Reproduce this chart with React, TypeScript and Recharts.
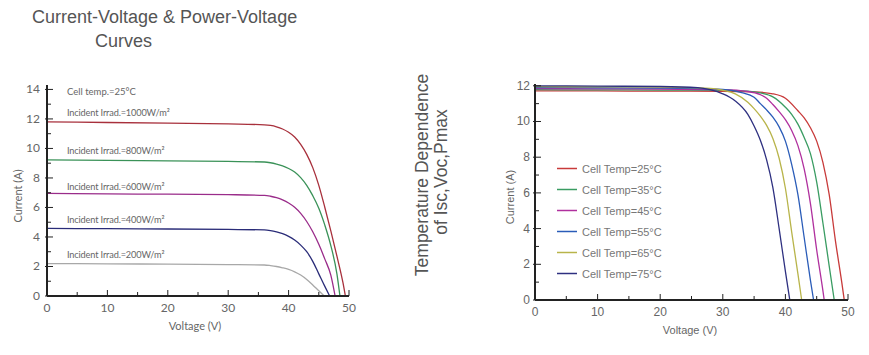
import React from "react";
import { LineChart, Line, XAxis, YAxis, Legend } from "recharts";

// Left chart: I-V curves at cell temp 25°C for several irradiance levels
const IRR_LABELS = ["1000", "800", "600", "400", "200"];
const IRR_COLORS = ["#a8303c", "#3a9258", "#9a2c8a", "#2a2c78", "#a8a8a8"];

const IRR_1000_V = [0, 10, 20, 30, 36, 37, 38, 39, 40, 41, 42, 43, 44, 45, 46, 47, 48, 49, 49.4];
const IRR_1000_I = [11.8, 11.76, 11.72, 11.66, 11.6, 11.56, 11.47, 11.32, 11.1, 10.78, 10.28, 9.6, 8.7, 7.5, 6.0, 4.4, 2.7, 0.9, 0];
const IRR_800_V = [0, 10, 20, 30, 36, 37, 38, 39, 40, 41, 42, 43, 44, 45, 46, 47, 48, 48.5];
const IRR_800_I = [9.22, 9.19, 9.16, 9.12, 9.08, 9.03, 8.94, 8.82, 8.64, 8.4, 8.02, 7.5, 6.8, 5.95, 4.8, 3.4, 1.5, 0];
const IRR_600_V = [0, 10, 20, 30, 36, 37, 38, 39, 40, 41, 42, 43, 44, 45, 46, 47, 47.7];
const IRR_600_I = [6.95, 6.92, 6.9, 6.87, 6.82, 6.76, 6.66, 6.51, 6.3, 6.01, 5.6, 5.05, 4.35, 3.5, 2.5, 1.4, 0];
const IRR_400_V = [0, 10, 20, 30, 36, 37, 38, 39, 40, 41, 42, 43, 44, 45, 46, 46.8];
const IRR_400_I = [4.58, 4.56, 4.54, 4.51, 4.48, 4.43, 4.34, 4.22, 4.04, 3.79, 3.45, 3.0, 2.35, 1.5, 0.65, 0];
const IRR_200_V = [0, 10, 20, 30, 36, 37, 38, 39, 40, 41, 42, 43, 44, 45, 45.9];
const IRR_200_I = [2.2, 2.18, 2.16, 2.13, 2.1, 2.06, 2.0, 1.91, 1.8, 1.64, 1.42, 1.12, 0.75, 0.35, 0];

const LEFT_X_TICKS = [0, 5, 10, 15, 20, 25, 30, 35, 40, 45, 50];
const LEFT_Y_TICKS = [0, 1, 2, 3, 4, 5, 6, 7, 8, 9, 10, 11, 12, 13, 14];

// Right chart: I-V curves at 1000W/m² for several cell temperatures
const TEMP_LABELS = ["25", "35", "45", "55", "65", "75"];
const TEMP_COLORS = ["#c83a3a", "#3a9c62", "#b0309e", "#2a5cb8", "#b8b44a", "#2e3080"];

const TEMP_25_V = [0, 10, 20, 30, 35, 38, 40, 42, 43, 44, 45, 46, 47, 48, 49, 49.4];
const TEMP_25_I = [11.72, 11.71, 11.7, 11.69, 11.66, 11.55, 11.3, 10.6, 10.2, 9.65, 8.9, 7.7, 5.9, 3.3, 1.0, 0];
const TEMP_35_V = [0, 10, 20, 30, 34, 36, 38, 40, 41, 42, 43, 44, 45, 46, 47, 47.8];
const TEMP_35_I = [11.78, 11.77, 11.76, 11.74, 11.7, 11.6, 11.38, 10.8, 10.4, 9.85, 9.1, 8.2, 6.6, 4.3, 1.9, 0];
const TEMP_45_V = [0, 10, 20, 30, 34, 36, 37, 38, 39, 40, 41, 42, 43, 44, 45, 46, 46.2];
const TEMP_45_I = [11.84, 11.83, 11.82, 11.78, 11.68, 11.5, 11.3, 10.95, 10.55, 10.1, 9.5, 8.65, 7.35, 5.4, 2.8, 0.5, 0];
const TEMP_55_V = [0, 10, 20, 30, 33, 35, 36, 37, 38, 39, 40, 41, 42, 43, 44, 44.5];
const TEMP_55_I = [11.9, 11.89, 11.87, 11.8, 11.62, 11.36, 11.0, 10.65, 10.24, 9.7, 8.9, 7.6, 5.9, 3.5, 1.1, 0];
const TEMP_65_V = [0, 10, 20, 28, 30, 32, 34, 35, 36, 37, 38, 39, 40, 41, 42, 42.6];
const TEMP_65_I = [11.95, 11.94, 11.92, 11.85, 11.75, 11.55, 11.08, 10.72, 10.3, 9.78, 9.05, 7.94, 6.26, 3.82, 1.46, 0];
const TEMP_75_V = [0, 10, 20, 26, 28, 30, 32, 34, 35, 36, 37, 38, 39, 40, 40.7];
const TEMP_75_I = [12.0, 11.98, 11.96, 11.9, 11.78, 11.55, 11.15, 10.4, 9.75, 8.95, 7.85, 6.3, 4.0, 1.6, 0];

const RIGHT_X_TICKS = [0, 5, 10, 15, 20, 25, 30, 35, 40, 45, 50];
const RIGHT_Y_TICKS = [0, 1, 2, 3, 4, 5, 6, 7, 8, 9, 10, 11, 12];

const toPoints = (vs: number[], is: number[]) => vs.map((v, k) => ({ v, i: is[k] }));

const IRR_SERIES = [
  toPoints(IRR_1000_V, IRR_1000_I),
  toPoints(IRR_800_V, IRR_800_I),
  toPoints(IRR_600_V, IRR_600_I),
  toPoints(IRR_400_V, IRR_400_I),
  toPoints(IRR_200_V, IRR_200_I),
];
const TEMP_SERIES = [
  toPoints(TEMP_25_V, TEMP_25_I),
  toPoints(TEMP_35_V, TEMP_35_I),
  toPoints(TEMP_45_V, TEMP_45_I),
  toPoints(TEMP_55_V, TEMP_55_I),
  toPoints(TEMP_65_V, TEMP_65_I),
  toPoints(TEMP_75_V, TEMP_75_I),
];

const LEFT_FONT = "Lato, 'Open Sans', sans-serif";
const RIGHT_FONT = "'Liberation Sans', Arial, sans-serif";
const AXIS_COLOR = "#222";
const TEXT_COLOR = "#666";

// inward tick marks; labels only on the major values
const makeYTick = (margin: number, every: number, font: string) => (props: any) => {
  const { x, y, payload } = props;
  const axisX = x + margin;
  const major = payload.value % every === 0;
  return (
    <g>
      <line x1={axisX - (major ? 2 : 0)} x2={axisX + (major ? 6 : 4)} y1={y} y2={y} stroke={AXIS_COLOR} strokeWidth={1} />
      {major && (
        <text x={x} y={y + 4} textAnchor="end" fontSize={12} fill={TEXT_COLOR} fontFamily={font}>
          {payload.value}
        </text>
      )}
    </g>
  );
};

const makeXTick = (margin: number, every: number, font: string) => (props: any) => {
  const { x, y, payload } = props;
  const axisY = y - margin;
  const major = payload.value % every === 0;
  return (
    <g>
      <line x1={x} x2={x} y1={axisY} y2={axisY - (major ? 6 : 4)} stroke={AXIS_COLOR} strokeWidth={1} />
      {major && (
        <text x={x} y={axisY + 16} textAnchor="middle" fontSize={12} fill={TEXT_COLOR} fontFamily={font}>
          {payload.value}
        </text>
      )}
    </g>
  );
};

const TempLegend = (props: any) => {
  const items = props.payload || [];
  return (
    <div style={{ fontFamily: RIGHT_FONT, fontSize: 11, color: "#777" }}>
      {items.map((it: any) => (
        <div key={it.value} style={{ height: 21, display: "flex", alignItems: "center", whiteSpace: "nowrap" }}>
          <svg width={25} height={21}>
            <line x1={0} x2={20} y1={10.5} y2={10.5} stroke={it.color} strokeWidth={1.5} />
          </svg>
          <span>{it.value}</span>
        </div>
      ))}
    </div>
  );
};

const IRR_LABEL_Y = [116, 154, 190, 223, 258];

export default function App() {
  return (
    <div style={{ position: "absolute", left: 0, top: 0, width: 869, height: 355, background: "#fff", overflow: "hidden" }}>
      <div style={{ position: "absolute", left: 0, top: 0 }}>
        <LineChart width={360} height={340} margin={{ top: 85, right: 11, bottom: 0, left: 17 }}>
          <XAxis
            dataKey="v"
            type="number"
            domain={[0, 50]}
            ticks={LEFT_X_TICKS}
            interval={0}
            height={44}
            tickSize={0}
            tickMargin={6}
            axisLine={{ stroke: AXIS_COLOR, strokeWidth: 2 }}
            tickLine={false}
            tick={makeXTick(6, 10, LEFT_FONT)}
          />
          <YAxis
            dataKey="i"
            type="number"
            domain={[0, 14.3]}
            ticks={LEFT_Y_TICKS}
            interval={0}
            width={30}
            tickSize={0}
            tickMargin={7}
            axisLine={{ stroke: AXIS_COLOR, strokeWidth: 2 }}
            tickLine={false}
            tick={makeYTick(7, 2, LEFT_FONT)}
          />
          {IRR_SERIES.map((pts, k) => (
            <Line
              key={IRR_LABELS[k]}
              data={pts}
              dataKey="i"
              name={IRR_LABELS[k]}
              type="monotone"
              stroke={IRR_COLORS[k]}
              strokeWidth={1.3}
              dot={false}
              isAnimationActive={false}
            />
          ))}
        </LineChart>
      </div>

      <div style={{ position: "absolute", left: 480, top: 0 }}>
        <LineChart width={380} height={345} margin={{ top: 84, right: 12, bottom: 0, left: 25 }}>
          <XAxis
            dataKey="v"
            type="number"
            domain={[0, 50]}
            ticks={RIGHT_X_TICKS}
            interval={0}
            height={45}
            tickSize={0}
            tickMargin={6}
            axisLine={{ stroke: AXIS_COLOR, strokeWidth: 2 }}
            tickLine={false}
            tick={makeXTick(6, 10, RIGHT_FONT)}
          />
          <YAxis
            dataKey="i"
            type="number"
            domain={[0, 12.1]}
            ticks={RIGHT_Y_TICKS}
            interval={0}
            width={30}
            tickSize={0}
            tickMargin={5}
            axisLine={{ stroke: AXIS_COLOR, strokeWidth: 2 }}
            tickLine={false}
            tick={makeYTick(5, 2, RIGHT_FONT)}
          />
          <Legend
            layout="vertical"
            align="center"
            verticalAlign="middle"
            wrapperStyle={{ left: 77, top: 158, width: 120 }}
            content={<TempLegend />}
          />
          {TEMP_SERIES.map((pts, k) => (
            <Line
              key={TEMP_LABELS[k]}
              data={pts}
              dataKey="i"
              name={`Cell Temp=${TEMP_LABELS[k]}°C`}
              type="monotone"
              stroke={TEMP_COLORS[k]}
              strokeWidth={1.3}
              dot={false}
              isAnimationActive={false}
            />
          ))}
        </LineChart>
      </div>

      <svg width={869} height={355} style={{ position: "absolute", left: 0, top: 0, pointerEvents: "none" }}>
        <g fontFamily={RIGHT_FONT} fill="#555">
          <text x={32} y={23} fontSize={18}>Current-Voltage &amp; Power-Voltage</text>
          <text x={95} y={47} fontSize={18}>Curves</text>
          <text transform="translate(428,175) rotate(-90)" textAnchor="middle" fontSize={17.5}>Temperature Dependence</text>
          <text transform="translate(447,172) rotate(-90)" textAnchor="middle" fontSize={17.5}>of Isc,Voc,Pmax</text>
        </g>
        <g fontFamily={LEFT_FONT} fill="#666">
          <text x={67} y={95} fontSize={9.5}>Cell temp.=25°C</text>
          {IRR_LABELS.map((lab, k) => (
            <text key={lab} x={67} y={IRR_LABEL_Y[k]} fontSize={9.2} letterSpacing={-0.15}>
              {`Incident Irrad.=${lab}W/m²`}
            </text>
          ))}
        </g>
        <g fontFamily={LEFT_FONT} fontSize={11} fill={TEXT_COLOR}>
          <text transform="translate(22,196) rotate(-90)" textAnchor="middle">Current (A)</text>
          <text x={195} y={330} textAnchor="middle">Voltage (V)</text>
        </g>
        <g fontFamily={RIGHT_FONT} fontSize={11} fill={TEXT_COLOR}>
          <text transform="translate(514,197) rotate(-90)" textAnchor="middle">Current (A)</text>
          <text x={690} y={334} textAnchor="middle">Voltage (V)</text>
        </g>
      </svg>
    </div>
  );
}
